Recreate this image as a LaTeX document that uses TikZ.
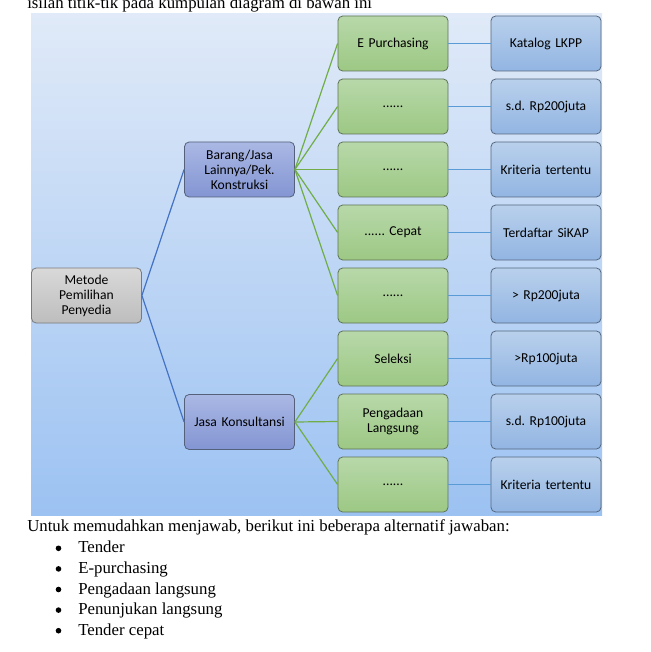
\documentclass[tikz,border=0pt]{standalone}
\usepackage{fontspec}
\setmainfont{Liberation Serif}
\newfontfamily\nodefont{Carlito}[WordSpace=0.8]
\frenchspacing
\definecolor{bgtop}{HTML}{E0EAF8}
\definecolor{bgbot}{HTML}{9CC2F2}
\definecolor{gtop}{HTML}{B8D8A9}
\definecolor{gbot}{HTML}{9CC884}
\definecolor{gbrd}{HTML}{5F7356}
\definecolor{btop}{HTML}{B9D0EC}
\definecolor{bbot}{HTML}{92B5E2}
\definecolor{bbrd}{HTML}{55687F}
\definecolor{ptop}{HTML}{AAB8E4}
\definecolor{pbot}{HTML}{8395D3}
\definecolor{pbrd}{HTML}{55607A}
\definecolor{mtop}{HTML}{D9D9D9}
\definecolor{mbot}{HTML}{BDBDBD}
\definecolor{mbrd}{HTML}{7A7A7A}
\definecolor{lblue}{HTML}{4472C4}
\definecolor{lgreen}{HTML}{70AD47}
\definecolor{lsky}{HTML}{5B9BD5}
\begin{document}
\begin{tikzpicture}[x=0.75pt,y=-0.75pt,
  box/.style={rounded corners=3.5pt, line width=0.6pt, minimum width=82.5pt, minimum height=41.25pt,
    inner sep=1pt, align=center, text width=78pt, font=\nodefont\fontsize{10.2}{11.2}\selectfont},
  gbox/.style={box, draw=gbrd, top color=gtop, bottom color=gbot},
  bbox/.style={box, draw=bbrd, top color=btop, bottom color=bbot},
  pbox/.style={box, draw=pbrd, top color=ptop, bottom color=pbot},
  mbox/.style={box, draw=mbrd, top color=mtop, bottom color=mbot},
  lb/.style={lblue, line width=0.9pt},
  lg/.style={lgreen, line width=0.9pt},
  ls/.style={lsky, line width=0.9pt},
  dot/.style={circle, fill=black, inner sep=0, minimum size=4.2pt},
  txt/.style={anchor=base west, inner sep=0, font=\fontsize{12.6}{14}\selectfont}]
\useasboundingbox (0,0) rectangle (650,652);
\fill[white] (0,0) rectangle (650,652);
\shade[top color=bgtop, bottom color=bgbot] (31,14) rectangle (602,515);
\node[txt] (top) at (27,8.5) {isilah titik-tik pada kumpulan diagram di bawah ini};

\node[mbox] (m) at (86.5,295.5) {Metode\\Pemilihan\\Penyedia};
\node[pbox] (b) at (239.5,169.5) {Barang/Jasa\\Lainnya/Pek.\\Konstruksi};
\node[pbox] (j) at (239.5,422) {Jasa Konsultansi};

\node[gbox] (g1) at (393,43.5) {E Purchasing};
\node[gbox] (g2) at (393,106.5) {......};
\node[gbox] (g3) at (393,169.5) {......};
\node[gbox] (g4) at (393,232.5) {...... Cepat};
\node[gbox] (g5) at (393,295.5) {......};
\node[gbox] (g6) at (393,358.5) {Seleksi};
\node[gbox] (g7) at (393,421.5) {Pengadaan\\Langsung};
\node[gbox] (g8) at (393,484.5) {......};

\node[bbox] (r1) at (546,43.5) {Katalog LKPP};
\node[bbox] (r2) at (546,106.5) {s.d. Rp200juta};
\node[bbox] (r3) at (546,169.5) {Kriteria tertentu};
\node[bbox] (r4) at (546,232.5) {Terdaftar SiKAP};
\node[bbox] (r5) at (546,295.5) {> Rp200juta};
\node[bbox] (r6) at (546,358.5) {>Rp100juta};
\node[bbox] (r7) at (546,421.5) {s.d. Rp100juta};
\node[bbox] (r8) at (546,484.5) {Kriteria tertentu};

\draw[lb] (m.east) -- (b.west);
\draw[lb] (m.east) -- (j.west);
\foreach \i in {1,...,5} {\draw[lg] (b.east) -- (g\i.west);}
\foreach \i in {6,7,8} {\draw[lg] (j.east) -- (g\i.west);}
\foreach \i in {1,...,8} {\draw[ls] (g\i.east) -- (r\i.west);}

\node[txt] (intro) at (27,531.5) {Untuk memudahkan menjawab, berikut ini beberapa alternatif jawaban:};
\foreach \t [count=\k from 0] in {Tender,E-purchasing,Pengadaan langsung,Penunjukan langsung,Tender cepat} {
  \node[dot] (d\k) at (58.5,548.3+20.6*\k) {};
  \node[txt] (t\k) at (78,552.8+20.6*\k) {\t};
}
\end{tikzpicture}
\end{document}
